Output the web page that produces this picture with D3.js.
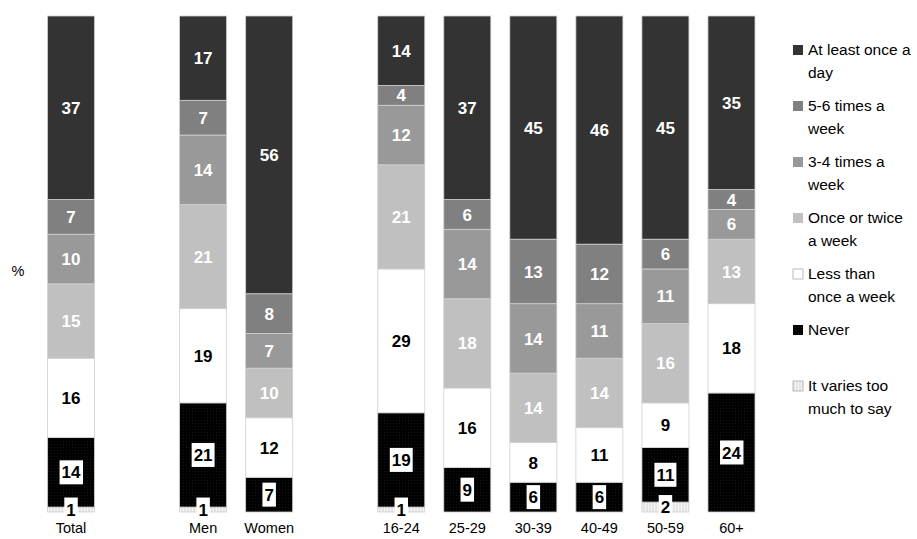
<!DOCTYPE html>
<html><head><meta charset="utf-8">
<script src="https://cdn.jsdelivr.net/npm/d3@7"></script>
<style>
body{margin:0;background:#fff}
text{font-family:"Liberation Sans",Arial,sans-serif}
</style>
</head><body>
<svg id="c" width="917" height="539"></svg>
<script>
// ---- data ----
const categories = ["Total","Men","Women","16-24","25-29","30-39","40-49","50-59","60+"];
const slots = ["Total","_g1","Men","Women","_g2","16-24","25-29","30-39","40-49","50-59","60+"];
const seriesNames = ["At least once a day","5-6 times a week","3-4 times a week","Once or twice a week","Less than once a week","Never","It varies too much to say"];
const legendLines = [["At least once a","day"],["5-6 times a","week"],["3-4 times a","week"],["Once or twice","a week"],["Less than","once a week"],["Never"],["It varies too","much to say"]];
const atLeastDaily = [37,17,56,14,37,45,46,45,35];
const fiveSix      = [7,7,8,4,6,13,12,6,4];
const threeFour    = [10,14,7,12,14,14,11,11,6];
const onceTwice    = [15,21,10,21,18,14,14,16,13];
const lessThan     = [16,19,12,29,16,8,11,9,18];
const never        = [14,21,7,19,9,6,6,11,24];
const varies       = [1,1,0,1,0,0,0,2,0];

const seriesValues = [atLeastDaily,fiveSix,threeFour,onceTwice,lessThan,never,varies];
const fills = ["#333333","#808080","#999999","#c0c0c0","#ffffff","url(#pNever)","url(#pVaries)"];
const labelColors = ["#fff","#fff","#fff","#fff","#000","#000","#000"];
const boxed = [false,false,false,false,false,true,true];

const svg = d3.select("#c");
const defs = svg.append("defs");
const pn = defs.append("pattern").attr("id","pNever").attr("width",3).attr("height",3).attr("patternUnits","userSpaceOnUse");
pn.append("rect").attr("width",3).attr("height",3).attr("fill","#000");
pn.append("rect").attr("width",1).attr("height",1).attr("fill","#141414");
const pv = defs.append("pattern").attr("id","pVaries").attr("width",3).attr("height",3).attr("patternUnits","userSpaceOnUse");
pv.append("rect").attr("width",3).attr("height",3).attr("fill","#e4e4e4");
pv.append("rect").attr("width",1).attr("height",3).attr("fill","#f6f6f6");

const x = d3.scaleBand().domain(slots).range([38, 764.5]).paddingInner(0.288).paddingOuter(0.144);
const y = d3.scaleLinear().domain([0,100]).range([512, 16]);

const keys = seriesNames.slice().reverse();
const rows = categories.map((c,i)=>{
  const r = {cat:c};
  seriesNames.forEach((s,j)=>{ r[s] = seriesValues[j][i]; });
  return r;
});
const stacked = d3.stack().keys(keys)(rows);

const g = svg.append("g");
stacked.forEach(layer=>{
  const si = seriesNames.indexOf(layer.key);
  g.selectAll(null).data(layer.filter(d=>d[1]-d[0]>0)).enter().append("rect")
    .attr("x",d=>x(d.data.cat))
    .attr("width",x.bandwidth())
    .attr("y",d=>y(d[1]))
    .attr("height",d=>y(d[0])-y(d[1]))
    .attr("fill",fills[si])
    .attr("stroke","#d0d0d0").attr("stroke-width",0.8);
});

stacked.forEach(layer=>{
  const si = seriesNames.indexOf(layer.key);
  layer.filter(d=>d[1]-d[0]>0).forEach(d=>{
    const cx = x(d.data.cat)+x.bandwidth()/2;
    const cy = (y(d[0])+y(d[1]))/2;
    const lg = g.append("g");
    const t = lg.append("text").attr("x",cx).attr("y",cy).attr("dy","0.36em")
      .attr("text-anchor","middle").attr("font-weight","bold").attr("font-size",17)
      .attr("fill",labelColors[si]).text(d[1]-d[0]);
    if(boxed[si]){
      const bb = t.node().getBBox();
      lg.insert("rect","text").attr("x",bb.x-2).attr("y",cy-12).attr("width",bb.width+4).attr("height",24).attr("fill","#fff");
    }
  });
});

const ax = svg.append("g").attr("transform","translate(0,497)")
  .call(d3.axisBottom(x).tickSize(0).tickPadding(0).tickFormat(d=>d.startsWith("_")?"":d));
ax.attr("font-family",null);
ax.select(".domain").remove();
ax.selectAll("text").attr("font-size",14.5).attr("fill","#000").attr("dy","2.5em");

svg.append("text").attr("x",18).attr("y",276).attr("text-anchor","middle").attr("font-size",14.5).text("%");

const lgd = svg.append("g");
seriesNames.forEach((s,i)=>{
  const cy = 50 + i*56;
  lgd.append("rect").attr("x",793).attr("y",cy-5).attr("width",10).attr("height",10)
    .attr("fill",fills[i]).attr("stroke",i===4||i===6?"#aaa":"none").attr("stroke-width",0.8);
  const t = lgd.append("text").attr("x",808).attr("y",cy+5).attr("font-size",15.5).attr("fill","#000");
  legendLines[i].forEach((ln,k)=>{
    t.append("tspan").attr("x",808).attr("dy",k===0?0:23).text(ln);
  });
});
</script>
</body></html>
